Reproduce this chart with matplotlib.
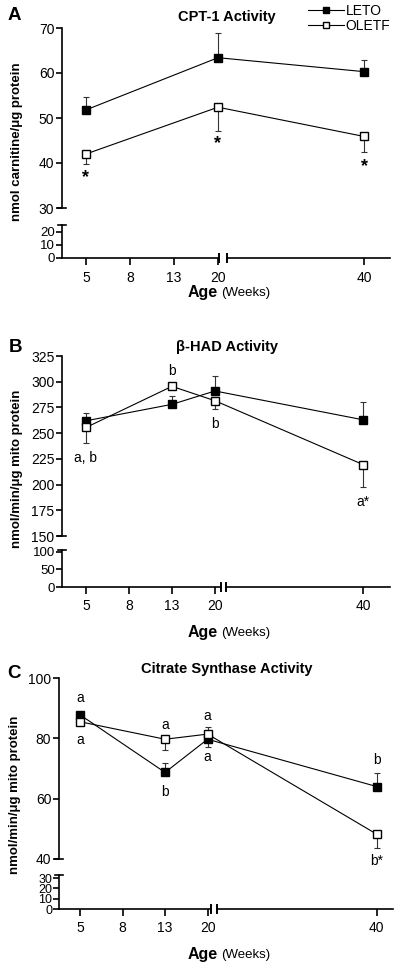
import matplotlib.pyplot as plt
from matplotlib.lines import Line2D
import matplotlib.transforms as mtransforms

plt.rcParams['font.family'] = ['Liberation Sans', 'DejaVu Sans']

# x axis categories (weeks)
ages = [5, 8, 13, 20, 40]

# A: CPT-1 activity (signed errors: + bar up, - bar down)
cpt_ages = [5, 20, 40]
cpt_leto = [51.8, 63.4, 60.3]
cpt_leto_err = [2.8, 5.6, 2.5]
cpt_oletf = [42.0, 52.4, 45.9]
cpt_oletf_err = [-2.3, -5.3, -3.4]
cpt_notes = [(5, 'oletf', '*', -17), (20, 'oletf', '*', -26.5), (40, 'oletf', '*', -21.5)]

# B: beta-HAD activity
had_ages = [5, 13, 20, 40]
had_leto = [262, 278, 291, 263]
had_leto_err = [8, 8, 15, 17]
had_oletf = [255.5, 295.5, 281.5, 219.5]
had_oletf_err = [-15, 3, -8.5, -22]
had_notes = [(5, 'oletf', 'a, b', -22), (13, 'oletf', 'b', 11), (20, 'oletf', 'b', -17),
             (40, 'oletf', 'a*', -27)]

# C: citrate synthase activity
cs_ages = [5, 13, 20, 40]
cs_leto = [87.8, 68.7, 79.7, 64.0]
cs_leto_err = [0.5, 3.1, -2.6, 4.4]
cs_oletf = [85.5, 79.7, 81.4, 48.2]
cs_oletf_err = [-0.5, -3.7, 2.3, -4.7]
cs_notes = [(5, 'leto', 'a', 12), (5, 'oletf', 'a', -13), (13, 'oletf', 'a', 10),
            (13, 'leto', 'b', -14), (20, 'oletf', 'a', 13), (20, 'leto', 'a', -13),
            (40, 'leto', 'b', 19), (40, 'oletf', 'b*', -19)]

W, H = 400, 968
fig = plt.figure(figsize=(W / 100, H / 100), dpi=100)


def box(x0, y0, x1, y1):
    return [x0 / W, 1 - y1 / H, (x1 - x0) / W, (y1 - y0) / H]


def draw_panel(up, low, xlim, p40, brk, ylim_up, yt_up, ylim_low, yt_low,
               xs, leto, leto_err, oletf, oletf_err, notes,
               title, tpos, letter, lpos, ylabel, ypos, xlab_y, star=False, low_fs=9.5):
    pos = {5: 0, 8: 1, 13: 2, 20: 3, 40: p40}
    axu = fig.add_axes(box(*up))
    axl = fig.add_axes(box(*low))
    for ax in (axu, axl):
        for s in ('top', 'right', 'bottom'):
            ax.spines[s].set_visible(False)
        ax.spines['left'].set_linewidth(1.2)
        ax.set_xlim(*xlim)
        ax.patch.set_alpha(0)
        ax.tick_params(axis='y', direction='out', length=4, width=1.2, pad=1.5)
    axu.set_ylim(*ylim_up)
    axu.set_yticks(yt_up)
    axu.tick_params(axis='y', labelsize=10)
    axu.set_xticks([])
    axl.set_ylim(*ylim_low)
    axl.set_yticks(yt_low)
    axl.tick_params(axis='y', labelsize=low_fs, pad=1)
    axl.set_xticks([pos[a] for a in ages])
    axl.set_xticklabels([str(a) for a in ages])
    axl.tick_params(axis='x', direction='out', length=5, width=1.2, labelsize=10, pad=4)
    # small stubs at the y break
    axu.plot([-0.012, 0.012], [0, 0], color='black', lw=1.2, transform=axu.transAxes, clip_on=False)
    axl.plot([-0.012, 0.012], [1, 1], color='black', lw=1.2, transform=axl.transAxes, clip_on=False)
    # broken x axis line
    tr = mtransforms.blended_transform_factory(axl.transData, axl.transAxes)
    axl.plot([xlim[0], brk[0]], [0, 0], color='black', lw=1.2, transform=tr, clip_on=False)
    axl.plot([brk[1], xlim[1]], [0, 0], color='black', lw=1.2, transform=tr, clip_on=False)
    hb = 4.0 / ((low[3] - low[1]))
    for b in brk:
        axl.plot([b, b], [-hb, hb], color='black', lw=1.4, transform=tr, clip_on=False)

    px = [pos[a] for a in xs]
    for vals, errs, face in ((leto, leto_err, 'black'), (oletf, oletf_err, 'white')):
        lo = [max(-e, 0) for e in errs]
        hi = [max(e, 0) for e in errs]
        axu.errorbar(px, vals, yerr=[lo, hi], fmt='none', ecolor='#333333',
                     elinewidth=0.8, capsize=2, capthick=0.8, zorder=1)
        axu.plot(px, vals, color='black', lw=0.8, marker='s', markersize=6.2,
                 markerfacecolor=face, markeredgecolor='black', markeredgewidth=1,
                 zorder=3, clip_on=False)
    series = {'leto': dict(zip(xs, leto)), 'oletf': dict(zip(xs, oletf))}
    for a, s, txt, dy in notes:
        if star:
            axu.annotate(txt, (pos[a], series[s][a]), xytext=(0, dy), textcoords='offset points',
                         ha='center', va='center', fontsize=13, fontweight='bold')
        else:
            axu.annotate(txt, (pos[a], series[s][a]), xytext=(0, dy), textcoords='offset points',
                         ha='center', va='center', fontsize=10)

    fig.text(tpos[0] / W, 1 - tpos[1] / H, title, ha='center', va='center',
             fontsize=10.5, fontweight='bold')
    fig.text(lpos[0] / W, 1 - lpos[1] / H, letter, ha='center', va='center',
             fontsize=13.5, fontweight='bold')
    fig.text(ypos[0] / W, 1 - ypos[1] / H, ylabel, ha='center', va='center',
             rotation=90, fontsize=9.5, fontweight='bold')
    fig.text(218 / W, 1 - xlab_y / H, 'Age', ha='right', va='center',
             fontsize=11.5, fontweight='bold')
    fig.text(221 / W, 1 - xlab_y / H, '(Weeks)', ha='left', va='center', fontsize=9.5)


draw_panel((62, 28, 390, 208), (62, 225, 390, 258), (-0.545, 6.91), 6.32, (3.02, 3.2),
           (30, 70), [30, 40, 50, 60, 70], (0, 25), [0, 10, 20],
           cpt_ages, cpt_leto, cpt_leto_err, cpt_oletf, cpt_oletf_err, cpt_notes,
           'CPT-1 Activity', (227, 17), 'A', (14, 15),
           'nmol carnitine/\u03bcg protein', (17, 142), 293, star=True)

draw_panel((62, 356, 390, 536), (62, 550, 390, 587), (-0.558, 7.07), 6.44, (3.15, 3.25),
           (150, 325), [150, 175, 200, 225, 250, 275, 300, 325], (0, 105), [0, 50, 100],
           had_ages, had_leto, had_leto_err, had_oletf, had_oletf_err, had_notes,
           '\u03b2-HAD Activity', (227, 347), 'B', (15, 348),
           'nmol/min/\u03bcg mito protein', (17, 469), 633)

draw_panel((59, 678, 393, 859), (59, 875, 393, 909), (-0.494, 7.36), 6.98, (3.08, 3.22),
           (40, 100), [40, 60, 80, 100], (0, 33), [0, 10, 20, 30],
           cs_ages, cs_leto, cs_leto_err, cs_oletf, cs_oletf_err, cs_notes,
           'Citrate Synthase Activity', (227, 669), 'C', (14, 673),
           'nmol/min/\u03bcg mito protein', (15, 795), 955, low_fs=9)

# legend (top right)
handles = [Line2D([], [], color='black', lw=0.8, marker='s', markersize=5,
                  markerfacecolor='black', markeredgecolor='black'),
           Line2D([], [], color='black', lw=0.8, marker='s', markersize=5,
                  markerfacecolor='white', markeredgecolor='black')]
fig.legend(handles, ['LETO', 'OLETF'], loc='upper left', bbox_to_anchor=(308 / W, 1 - 4 / H),
           frameon=False, fontsize=10, handlelength=2.6, handletextpad=0.1,
           labelspacing=0.05, borderpad=0.0, borderaxespad=0)

fig.savefig('out.png', dpi=100)
